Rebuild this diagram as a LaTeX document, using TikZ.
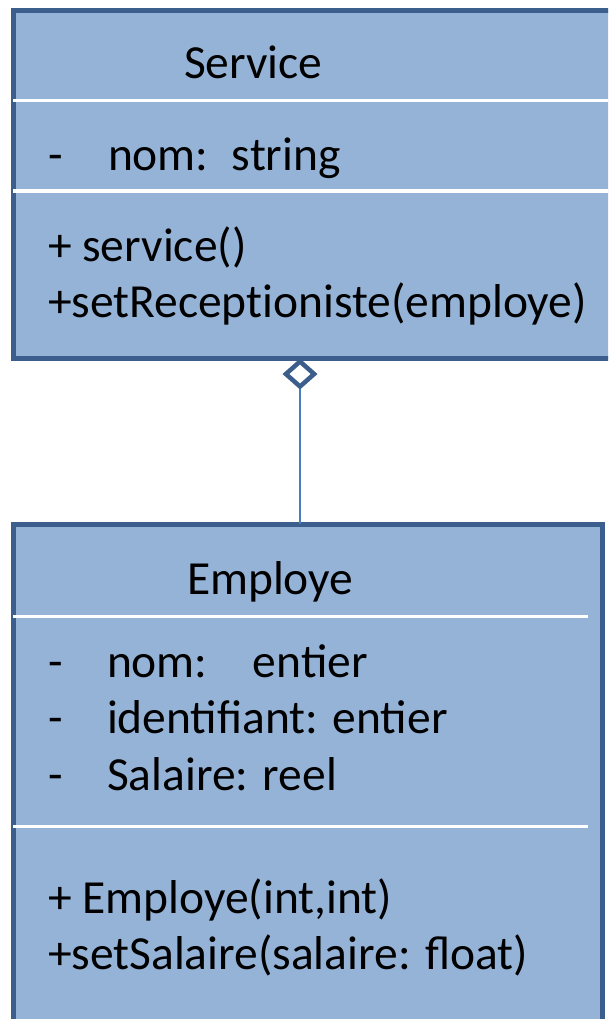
\documentclass[tikz,border=0pt]{standalone}
\usepackage{fontspec}
\setmainfont{Carlito}
\usetikzlibrary{arrows.meta}
\definecolor{boxfill}{HTML}{95B3D7}
\definecolor{boxline}{HTML}{3B5E8C}
\definecolor{connline}{HTML}{4A7EBB}
\begin{document}
\begin{tikzpicture}[x=1pt,y=-1pt,
  classbox/.style={draw=boxline, fill=boxfill, line width=5pt, rectangle, inner sep=0pt, outer sep=0pt, anchor=north west},
  sepline/.style={draw=white, line width=3pt},
  txt/.style={anchor=base west, inner sep=0pt, outer sep=0pt, font=\fontsize{47.5}{57}\selectfont},
  conn/.style={draw=connline, line width=2pt}]
\useasboundingbox (0,0) rectangle (608,1019);
\clip (0,0) rectangle (608,1019);
% Service class
\node[classbox, minimum width=620pt, minimum height=348pt] (sv) at (13.5,10.5) {};
\draw[sepline] (13,100.5) -- (608,100.5);
\draw[sepline] (13,191) -- (608,191);
\node[txt] (svname) at (184,79) {Service};
\node[txt] (svd1) at (48,171) {-};
\node[txt] (sva1) at (108,171) {\makebox[124pt][l]{nom:}string};
\node[txt] (svm1) at (48,261) {+ service()};
\node[txt] (svm2) at (48,317) {+setRecept\kern0pt ioniste(employe)};
% Employe class
\node[classbox, minimum width=589pt, minimum height=516pt] (em) at (13.5,524) {};
\draw[sepline] (13,616) -- (588,616);
\draw[sepline] (13,826) -- (588,826);
\node[txt] (emname) at (187,594) {Employe};
\node[txt] (emd1) at (48,677) {-};
\node[txt] (ema1) at (107,677) {\makebox[146pt][l]{nom:}entier};
\node[txt] (emd2) at (48,733) {-};
\node[txt] (ema2) at (107,733) {identifiant: entier};
\node[txt] (emd3) at (48,790) {-};
\node[txt] (ema3) at (107,790) {Salaire: reel};
\node[txt] (emm1) at (48,913) {+ Employe(int,int)};
\node[txt] (emm2) at (48,969) {+setSalaire(salaire: float)};
% aggregation
\draw[conn, {Diamond[open, length=31pt, width=35pt, line width=4.5pt, color=boxline]}-]
  ([xshift=286.5pt]sv.south west) -- ([xshift=286.5pt]em.north west);
\end{tikzpicture}
\end{document}
